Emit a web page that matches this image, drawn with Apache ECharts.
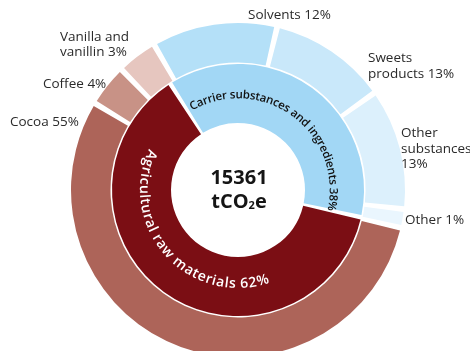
<!DOCTYPE html>
<html><head><meta charset="utf-8">
<script src="https://cdn.jsdelivr.net/npm/echarts@6/dist/echarts.min.js"></script>
<style>html,body{margin:0;padding:0;background:#fff}#c{width:470px;height:351px}</style>
</head><body><div id="c"></div>
<script>
// ---- data ----
const innerNames = ['Carrier substances and ingredients', 'Agricultural raw materials'];
const innerValues = [37.5, 62.5];
const innerPct = ['38%', '62%'];
const outerNames = ['Solvents', 'Sweets\nproducts', 'Other\nsubstances\n', 'Other', 'Cocoa', 'Coffee', 'Vanilla and\nvanillin'];
const outerValues = [12.1, 11.4, 11.7, 1.8, 55.1, 4.1, 3.9];
const outerPct = ['12%', '13%', '13%', '1%', '55%', '4%', '3%'];
const totalValue = '15361';
const totalUnit = ['tCO', '2', 'e'];

// ---- styles ----
const CX = 238, CY = 190;
const innerColors = ['#a2d7f5', '#7b0e14'];
const outerColors = ['#b4e0f8', '#c9e8fa', '#dcf0fc', '#eaf6fe', '#ad6459', '#c89286', '#e6c6bf'];
const labelPos = [[248, 15.5], [368, 66], [401, 149], [405, 220], [10, 122.5], [43, 84.5], [60, 44.5]];
const FONT = '"Open Sans", sans-serif';

const chart = echarts.init(document.getElementById('c'), null, {renderer: 'canvas'});

// curved text builder: fits text between startDeg and endDeg
const ctx = document.createElement('canvas').getContext('2d');
function curvedText(text, r, startDeg, endDeg, clockwise, font, fill) {
  ctx.font = font;
  const chars = Array.from(text);
  const widths = chars.map(c => ctx.measureText(c).width);
  const total = widths.reduce((a, b) => a + b, 0);
  const arcLen = Math.abs(endDeg - startDeg) * Math.PI / 180 * r;
  const extra = Math.max(0, (arcLen - total) / (chars.length - 1));
  const els = [];
  let cum = 0;
  chars.forEach((ch, i) => {
    const w = widths[i];
    const mid = (cum + w / 2) / r * 180 / Math.PI;
    const th = clockwise ? startDeg - mid : startDeg + mid;
    const rad = th * Math.PI / 180;
    const rot = clockwise ? (th - 90) : (th + 90);
    els.push({
      type: 'text', silent: true, z: 100,
      x: CX + r * Math.cos(rad), y: CY - r * Math.sin(rad),
      rotation: rot * Math.PI / 180,
      style: {text: ch, font: font, fill: fill, align: 'center', verticalAlign: 'middle'}
    });
    cum += w + extra;
  });
  return els;
}

const graphics = []
  .concat(curvedText(innerNames[0] + ' ' + innerPct[0], 95, 120, -11, true, '600 11.5px ' + FONT, '#111'))
  .concat(curvedText(innerNames[1] + ' ' + innerPct[1], 94, 155, 289, false, '600 14px ' + FONT, '#fff'));

graphics.push({
  type: 'text', silent: true, z: 100, x: 239, y: 178,
  style: {text: totalValue, font: 'bold 20px ' + FONT, fill: '#151515', align: 'center', verticalAlign: 'middle'}
});
graphics.push({
  type: 'text', silent: true, z: 100, x: 239, y: 202,
  style: {
    text: '{a|' + totalUnit[0] + '}{s|' + totalUnit[1] + '}{a|' + totalUnit[2] + '}',
    align: 'center', verticalAlign: 'middle',
    rich: {
      a: {font: 'bold 20px ' + FONT, fill: '#151515'},
      s: {font: 'bold 11px ' + FONT, fill: '#151515', padding: [8, 0, 0, 0]}
    }
  }
});

chart.setOption({
  animation: false,
  graphic: graphics,
  series: [
    {
      type: 'pie', silent: true, center: [CX, CY], radius: [67, 126],
      startAngle: 122.5, clockwise: true, padAngle: 2, avoidLabelOverlap: false,
      label: {show: false}, labelLine: {show: false},
      data: innerNames.map((n, i) => ({name: n, value: innerValues[i], itemStyle: {color: innerColors[i]}}))
    },
    {
      type: 'pie', silent: true, center: [CX, CY], radius: [127.5, 167],
      startAngle: 120, clockwise: true, padAngle: 2, avoidLabelOverlap: false,
      label: {
        show: true, position: 'outside', color: '#2a2a2a', fontFamily: FONT, fontSize: 13.5, lineHeight: 15.5,
        formatter: p => outerNames[p.dataIndex] + (outerNames[p.dataIndex].endsWith('\n') ? '' : ' ') + outerPct[p.dataIndex]
      },
      labelLine: {show: false},
      labelLayout: p => ({x: labelPos[p.dataIndex][0], y: labelPos[p.dataIndex][1], align: 'left', verticalAlign: 'middle'}),
      data: outerNames.map((n, i) => ({name: n, value: outerValues[i], itemStyle: {color: outerColors[i]}}))
    }
  ]
});
</script>
</body></html>
